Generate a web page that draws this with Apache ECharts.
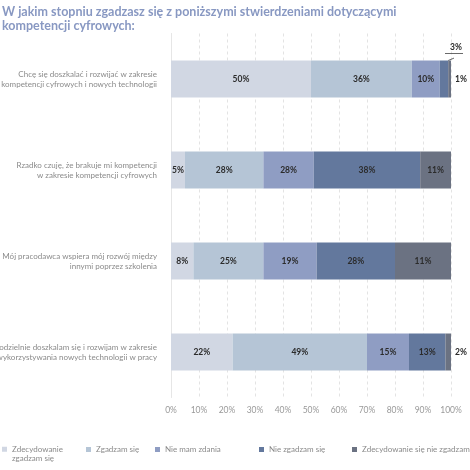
<!DOCTYPE html>
<html>
<head>
<meta charset="utf-8">
<script src="https://cdn.jsdelivr.net/npm/echarts@6/dist/echarts.min.js"></script>
<style>
  html, body { margin: 0; padding: 0; background: #fff; }
  #chart { width: 470px; height: 470px; }
</style>
</head>
<body>
<div id="chart"></div>
<script>
// pytania (od góry)
const categories = [
  "Chcę się doszkalać i rozwijać w zakresie\nkompetencji cyfrowych i nowych technologii",
  "Rzadko czuję, że brakuje mi kompetencji\nw zakresie kompetencji cyfrowych",
  "Mój pracodawca wspiera mój rozwój między\ninnymi poprzez szkolenia",
  "Samodzielnie doszkalam się i rozwijam w zakresie\nwykorzystywania nowych technologii w pracy",
];
const seriesNames = [
  "Zdecydowanie zgadzam się",
  "Zgadzam się",
  "Nie mam zdania",
  "Nie zgadzam się",
  "Zdecydowanie się nie zgadzam",
];

// szerokości słupków
const strongAgree = [50, 5, 8, 22];
const agree = [36, 28, 25, 48];
const noOpinion = [10, 18, 19, 15];
const disagree = [3, 38, 28, 13];
const strongDisagree = [1, 11, 21, 2];

// etykiety wydrukowane na słupkach
const strongAgreeLabels = [50, 5, 8, 22];
const agreeLabels = [36, 28, 25, 49];
const noOpinionLabels = [10, 28, 19, 15];
const disagreeLabels = [3, 38, 28, 13];
const strongDisagreeLabels = [1, 11, 11, 2];

const xTicks = [0, 10, 20, 30, 40, 50, 60, 70, 80, 90, 100];

const colors = ["#d1d7e3", "#b5c5d6", "#8f9dc3", "#63789d", "#6b7282"];
const font = "Lato";

const values = [strongAgree, agree, noOpinion, disagree, strongDisagree];
const printed = [strongAgreeLabels, agreeLabels, noOpinionLabels, disagreeLabels, strongDisagreeLabels];

const chart = echarts.init(document.getElementById("chart"));

const series = values.map((vals, s) => ({
  name: seriesNames[s],
  type: "bar",
  stack: "total",
  barWidth: 37,
  itemStyle: { color: colors[s] },
  label: {
    show: true,
    position: "inside",
    fontFamily: font,
    fontSize: 8.5,
    fontWeight: "bold",
    color: "#2b2b2b",
  },
  labelLayout: s === 3
    ? (params) => params.dataIndex === 0
      ? { x: 454, y: 54, align: "center", verticalAlign: "bottom" }
      : {}
    : undefined,
  data: vals.map((v, i) => {
    const item = { value: v, label: { formatter: printed[s][i] + "%" } };
    if (s === 4 && (i === 0 || i === 3)) {
      item.label.position = "right";
      item.label.distance = 4;
    }
    if (s === 3 && i === 0) {
      // etykieta nad słupkiem, podkreślona, z linią prowadzącą
      item.label.formatter = "{t|" + printed[s][i] + "%}\n{u|}";
      item.label.rich = {
        t: { fontFamily: font, fontSize: 8.5, fontWeight: "bold", color: "#2b2b2b", align: "right", padding: [0, 1, 1, 0] },
        u: { width: 18, height: 0.8, backgroundColor: "#444" },
      };
      item.labelLine = { show: true, lineStyle: { color: "#444", width: 0.8 } };
    }
    return item;
  }),
}));

const legendPos = [
  { left: 2, top: 435 },
  { left: 86, top: 444.5 },
  { left: 155, top: 444.5 },
  { left: 259, top: 444.5 },
  { left: 352, top: 444.5 },
];

const legends = seriesNames.map((name, i) => ({
  data: [name],
  left: legendPos[i].left,
  top: legendPos[i].top,
  padding: 0,
  icon: "rect",
  itemWidth: 5,
  itemHeight: 5,
  itemGap: 0,
  selectedMode: false,
  // pusta pierwsza linia, żeby kwadracik stał przy pierwszej linii tekstu
  formatter: i === 0 ? () => "\nZdecydowanie\nzgadzam się" : undefined,
  textStyle: {
    fontFamily: font,
    fontSize: 8,
    color: "#8a8a8a",
    lineHeight: i === 0 ? 9.5 : 10,
  },
}));

chart.setOption({
  animation: false,
  title: {
    text: "W jakim stopniu zgadzasz się z poniższymi stwierdzeniami dotyczącymi\nkompetencji cyfrowych:",
    left: 2,
    top: 4.5,
    padding: 0,
    textStyle: {
      fontFamily: font,
      fontSize: 12.5,
      fontWeight: "bold",
      color: "#8898c2",
      lineHeight: 14,
    },
  },
  legend: legends,
  grid: { left: 171, right: 19, top: 33.5, bottom: 72.5, containLabel: false, outerBoundsMode: "none" },
  xAxis: {
    type: "value",
    min: xTicks[0],
    max: xTicks[xTicks.length - 1],
    interval: xTicks[1] - xTicks[0],
    axisLine: { show: false },
    axisTick: { show: false },
    axisLabel: {
      formatter: "{value}%",
      fontFamily: font,
      fontSize: 8.5,
      color: "#999",
      margin: 8,
    },
    splitLine: { show: true, lineStyle: { type: [3, 3], color: "#dcdcdc", width: 0.8 } },
  },
  yAxis: {
    type: "category",
    inverse: true,
    data: categories,
    axisLine: { show: true, lineStyle: { color: "#e6e6e6", width: 1 } },
    axisTick: { show: false },
    axisLabel: {
      fontFamily: font,
      fontSize: 8,
      color: "#8a8a8a",
      lineHeight: 10,
      align: "right",
      margin: 14,
    },
  },
  series: series,
});
</script>
</body>
</html>
